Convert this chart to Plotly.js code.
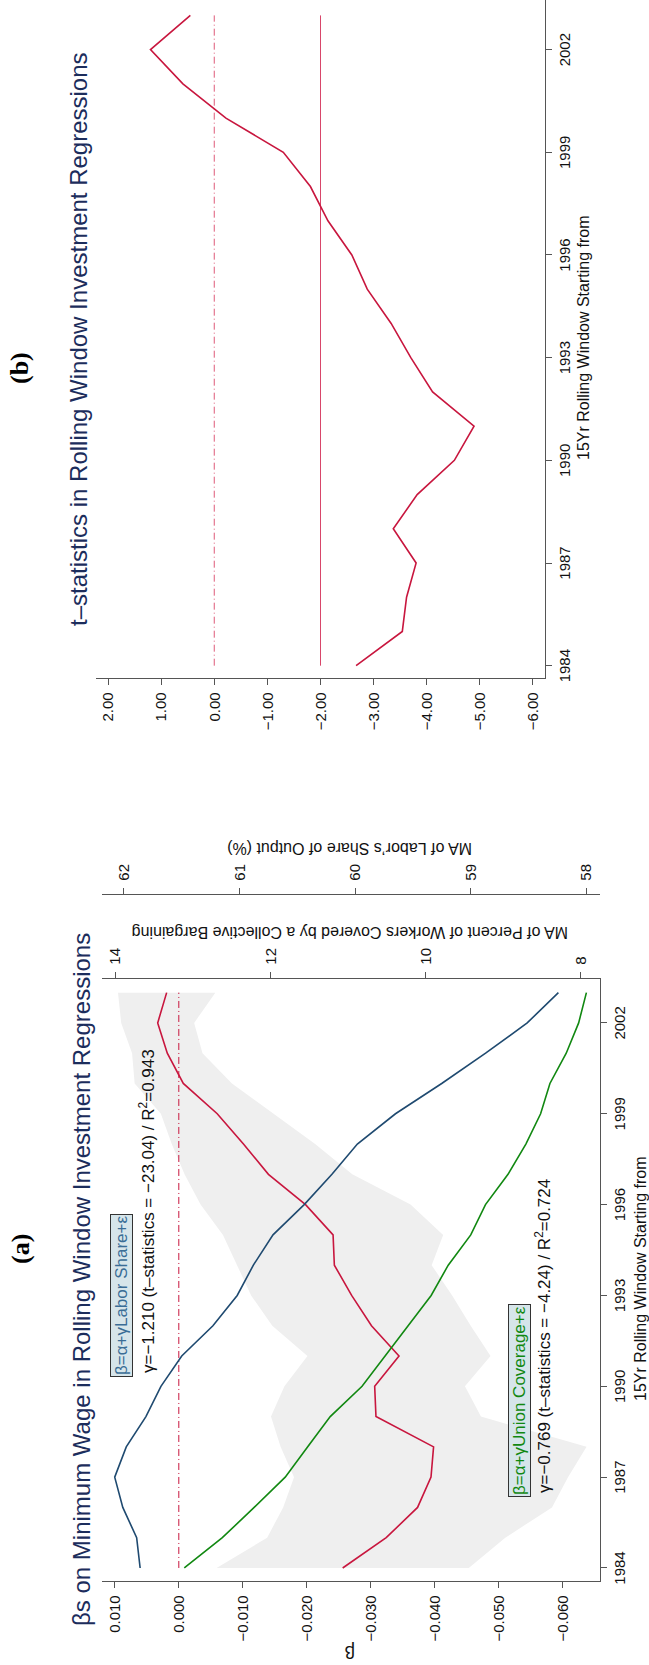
<!DOCTYPE html>
<html>
<head>
<meta charset="utf-8">
<script src="https://cdn.plot.ly/plotly-3.0.1.min.js"></script>
<style>
  html, body { margin:0; padding:0; background:#fff; overflow:hidden; width:649px; height:1665px; }
  #plot { position:absolute; left:0; top:0; width:1665px; height:649px; transform-origin:0 0; }
</style>
</head>
<body>
<div id="plot"></div>
<script>
// ---------------- data ----------------
const years = [1984,1985,1986,1987,1988,1989,1990,1991,1992,1993,1994,1995,1996,1997,1998,1999,2000,2001,2002,2003];
// panel (a): beta on minimum wage and its confidence band
const betaMW    = [-0.0256,-0.0324,-0.0373,-0.0394,-0.0398,-0.0308,-0.0306,-0.0344,-0.0301,-0.0270,-0.0243,-0.0241,-0.0198,-0.0140,-0.0101,-0.0060,-0.0007,0.0018,0.0033,0.0019];
const betaUpper = [-0.0059,-0.0138,-0.0163,-0.0180,-0.0159,-0.0144,-0.0165,-0.0201,-0.0146,-0.0113,-0.0091,-0.0069,-0.0034,-0.0009,0.0011,0.0028,0.0069,0.0073,0.0090,0.0095];
const betaLower = [-0.0453,-0.0510,-0.0583,-0.0608,-0.0637,-0.0472,-0.0447,-0.0487,-0.0456,-0.0427,-0.0395,-0.0413,-0.0362,-0.0271,-0.0213,-0.0148,-0.0083,-0.0037,-0.0024,-0.0057];
// MA of percent of workers covered by collective bargaining
const unionCov  = [13.11,12.62,12.21,11.81,11.52,11.23,10.82,10.52,10.22,9.93,9.71,9.42,9.23,8.94,8.71,8.52,8.40,8.19,8.03,7.93];
// MA of labor's share of output (%)
const laborShare= [61.86,61.89,62.01,62.08,61.98,61.81,61.68,61.50,61.23,61.02,60.88,60.71,60.44,60.20,59.98,59.65,59.25,58.87,58.51,58.24];
// panel (b): t-statistics
const tStat     = [-2.67,-3.54,-3.62,-3.80,-3.37,-3.82,-4.52,-4.89,-4.11,-3.70,-3.33,-2.88,-2.59,-2.14,-1.81,-1.30,-0.22,0.59,1.20,0.45];
const refZero = 0;
const refCrit = -2;

const yearTicks  = [1984,1987,1990,1993,1996,1999,2002];
const betaTicks  = [0.010,0.000,-0.010,-0.020,-0.030,-0.040,-0.050,-0.060];
const unionTicks = [8,10,12,14];
const laborTicks = [58,59,60,61,62];
const tTicks     = [2,1,0,-1,-2,-3,-4,-5,-6];

// ---------------- style ----------------
const RED = '#c8163e', NAVY = '#1f4a70', GREEN = '#118811';
const FONT = 'Liberation Sans, Arial, Helvetica, sans-serif';
const TICKFONT = {family: FONT, size: 15, color: '#111'};
const axisCommon = {showline:true, linecolor:'#555', linewidth:1.3, ticks:'outside', ticklen:6,
                    tickcolor:'#555', showgrid:false, zeroline:false, tickfont:TICKFONT, ticklabelstandoff:4};
const xAxisCommon = Object.assign({}, axisCommon, {ticklabelstandoff:0});
const ends = [years[0], years[years.length-1]];

const traces = [
  {x: years, y: betaLower, xaxis:'x', yaxis:'y', mode:'lines', line:{width:0}, hoverinfo:'skip', showlegend:false},
  {x: years, y: betaUpper, xaxis:'x', yaxis:'y', mode:'lines', line:{width:0}, fill:'tonexty',
   fillcolor:'#efefef', hoverinfo:'skip', showlegend:false},
  {x: ends, y: [refZero, refZero], xaxis:'x', yaxis:'y', mode:'lines',
   line:{color:RED, width:1, dash:'7px,3px,1px,3px'}, showlegend:false},
  {x: years, y: laborShare, xaxis:'x', yaxis:'y3', mode:'lines', line:{color:NAVY, width:1.6}, showlegend:false},
  {x: years, y: unionCov, xaxis:'x', yaxis:'y2', mode:'lines', line:{color:GREEN, width:1.6}, showlegend:false},
  {x: years, y: betaMW, xaxis:'x', yaxis:'y', mode:'lines', line:{color:RED, width:1.6}, showlegend:false},
  // panel (b)
  {x: ends, y: [refZero, refZero], xaxis:'x2', yaxis:'y4', mode:'lines',
   line:{color:'#de5a78', width:1, dash:'7px,3px,1px,3px'}, showlegend:false},
  {x: ends, y: [refCrit, refCrit], xaxis:'x2', yaxis:'y4', mode:'lines',
   line:{color:'#d8466a', width:1}, showlegend:false},
  {x: years, y: tStat, xaxis:'x2', yaxis:'y4', mode:'lines', line:{color:RED, width:1.6}, showlegend:false}
];

const W = 1665, H = 649;
const px = X => X / W, py = Y => 1 - Y / H;
function note(text, X, Y, font, extra) {
  return Object.assign({text: text, x: px(X), y: py(Y), xref:'paper', yref:'paper', showarrow:false,
                        xanchor:'center', yanchor:'middle', font: font}, extra || {});
}
const serif = {family:'Liberation Serif, Times New Roman, serif', size:26, color:'#000'};
const titleFont = {family:FONT, size:24, color:'#1c2d5c'};
const axTitleFont = {family:FONT, size:16, color:'#111'};
const noteFont = {family:FONT, size:17, color:'#111'};

const layout = {
  width: W, height: H, margin:{l:0, r:0, t:0, b:0}, paper_bgcolor:'#fff', plot_bgcolor:'rgba(0,0,0,0)',
  font:{family: FONT, color:'#111'}, showlegend:false,
  xaxis: Object.assign({}, xAxisCommon, {domain:[px(84), px(686)], range:[1983.57, 2003.45], tickvals: yearTicks, anchor:'y'}),
  yaxis: Object.assign({}, axisCommon, {domain:[py(600), py(102)], range:[-0.0658, 0.0120], tickvals: betaTicks, tickformat:'.3f', anchor:'x'}),
  yaxis2: Object.assign({}, axisCommon, {overlaying:'y', side:'right', anchor:'x', range:[7.755, 14.17], tickvals: unionTicks}),
  yaxis3: Object.assign({}, axisCommon, {overlaying:'y', side:'right', anchor:'free', position: px(770), range:[57.88, 62.19], tickvals: laborTicks}),
  xaxis2: Object.assign({}, xAxisCommon, {domain:[px(987), 1], range:[1983.64, 2003.45], tickvals: yearTicks, anchor:'y4'}),
  yaxis4: Object.assign({}, axisCommon, {domain:[py(545), py(96)], range:[-6.226, 2.226], tickvals: tTicks, tickformat:'.2f', anchor:'x2'}),
  annotations: [
    note('<b>(a)</b>', 416, 21, serif),
    note('<b>(b)</b>', 1297, 19, serif),
    note('βs on Minimum Wage in Rolling Window Investment Regressions', 385, 81, titleFont),
    note('t–statistics in Rolling Window Investment Regressions', 1326, 79, titleFont),
    note('15Yr Rolling Window Starting from', 386, 640, axTitleFont),
    note('15Yr Rolling Window Starting from', 1327, 583, axTitleFont),
    note('β', 13, 350, {family:FONT, size:18, color:'#111'}, {textangle:-90}),
    note('MA of Percent of Workers Covered by a Collective Bargaining', 732, 350, axTitleFont, {textangle:-90}),
    note('MA of Labor’s Share of Output (%)', 816, 350, axTitleFont, {textangle:-90}),
    note('β=α+γLabor Share+ε', 288, 122, {family:FONT, size:17, color:'#3a6d96'},
         {xanchor:'left', bgcolor:'#d6e5ea', bordercolor:'#333', borderwidth:1, borderpad:1}),
    note('γ=−1.210 (t–statistics = −23.04) / R<sup>2</sup>=0.943', 290, 147, noteFont, {xanchor:'left'}),
    note('β=α+γUnion Coverage+ε', 168, 519, {family:FONT, size:17, color:'#118811'},
         {xanchor:'left', bgcolor:'#d6e5ea', bordercolor:'#333', borderwidth:1, borderpad:1}),
    note('γ=−0.769 (t–statistics = −4.24) / R<sup>2</sup>=0.724', 170, 543, noteFont, {xanchor:'left'})
  ]
};

// draw unrotated (so that Plotly measures text correctly), then turn the finished chart to portrait
Plotly.newPlot('plot', traces, layout, {staticPlot:true, displayModeBar:false}).then(function () {
  document.getElementById('plot').style.transform = 'translate(0px,1665px) rotate(-90deg)';
});
</script>
</body>
</html>
